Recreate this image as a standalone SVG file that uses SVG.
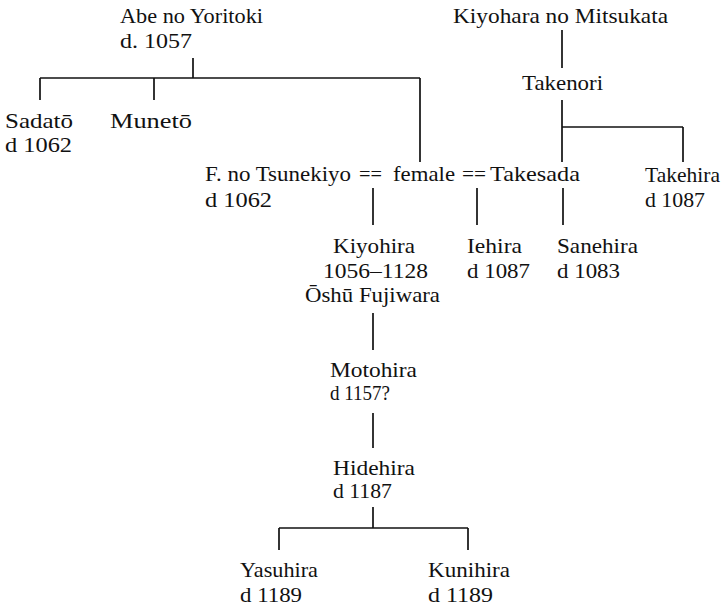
<svg xmlns="http://www.w3.org/2000/svg" width="725" height="606" viewBox="0 0 725 606">
<style>
text{font-family:"Liberation Serif","Times New Roman",serif;font-size:21px;fill:#111}
.c line{stroke:#111;stroke-width:1.7;fill:none}
</style>
<rect width="725" height="606" fill="#fff"/>
<g class="c" id="connectors">
<line x1="193" y1="58" x2="193" y2="78"/>
<line x1="40" y1="78" x2="420" y2="78"/>
<line x1="40" y1="78" x2="40" y2="100"/>
<line x1="154" y1="78" x2="154" y2="100"/>
<line x1="420" y1="78" x2="420" y2="162"/>
<line x1="562" y1="30" x2="562" y2="68"/>
<line x1="562" y1="100" x2="562" y2="162"/>
<line x1="562" y1="127" x2="683" y2="127"/>
<line x1="683" y1="127" x2="683" y2="162"/>
<line x1="373" y1="188" x2="373" y2="225"/>
<line x1="477" y1="188" x2="477" y2="225"/>
<line x1="563" y1="188" x2="563" y2="225"/>
<line x1="373" y1="313" x2="373" y2="350"/>
<line x1="373" y1="413" x2="373" y2="448"/>
<line x1="373" y1="507" x2="373" y2="528"/>
<line x1="279" y1="528" x2="468" y2="528"/>
<line x1="279" y1="528" x2="279" y2="550"/>
<line x1="468" y1="528" x2="468" y2="550"/>
<text x="359" y="181" textLength="23" lengthAdjust="spacingAndGlyphs">==</text>
<text x="462" y="181" textLength="24" lengthAdjust="spacingAndGlyphs">==</text>
</g>
<g id="abe"><text x="120" y="23" textLength="143" lengthAdjust="spacingAndGlyphs">Abe no Yoritoki</text><text x="120" y="48" textLength="72" lengthAdjust="spacingAndGlyphs">d. 1057</text></g>
<g id="sadato"><text x="5" y="128" textLength="68" lengthAdjust="spacingAndGlyphs">Sadatō</text><text x="5" y="152" textLength="67" lengthAdjust="spacingAndGlyphs">d 1062</text></g>
<g id="muneto"><text x="110" y="128" textLength="82" lengthAdjust="spacingAndGlyphs">Munetō</text></g>
<g id="mitsukata"><text x="453" y="23" textLength="215" lengthAdjust="spacingAndGlyphs">Kiyohara no Mitsukata</text></g>
<g id="takenori"><text x="522" y="90" textLength="81" lengthAdjust="spacingAndGlyphs">Takenori</text></g>
<g id="tsunekiyo"><text x="205" y="181" textLength="146" lengthAdjust="spacingAndGlyphs">F. no Tsunekiyo</text><text x="205" y="207" textLength="67" lengthAdjust="spacingAndGlyphs">d 1062</text></g>
<g id="female"><text x="393" y="181" textLength="62" lengthAdjust="spacingAndGlyphs">female</text></g>
<g id="takesada"><text x="490" y="181" textLength="90" lengthAdjust="spacingAndGlyphs">Takesada</text></g>
<g id="takehira"><text x="645" y="182" textLength="75" lengthAdjust="spacingAndGlyphs">Takehira</text><text x="645" y="207" textLength="60" lengthAdjust="spacingAndGlyphs">d 1087</text></g>
<g id="kiyohira"><text x="333" y="253" textLength="82" lengthAdjust="spacingAndGlyphs">Kiyohira</text><text x="323" y="278" textLength="105" lengthAdjust="spacingAndGlyphs">1056–1128</text><text x="305" y="302" textLength="135" lengthAdjust="spacingAndGlyphs">Ōshū Fujiwara</text></g>
<g id="iehira"><text x="467" y="253" textLength="55" lengthAdjust="spacingAndGlyphs">Iehira</text><text x="467" y="278" textLength="63" lengthAdjust="spacingAndGlyphs">d 1087</text></g>
<g id="sanehira"><text x="557" y="253" textLength="81" lengthAdjust="spacingAndGlyphs">Sanehira</text><text x="557" y="278" textLength="63" lengthAdjust="spacingAndGlyphs">d 1083</text></g>
<g id="motohira"><text x="330" y="377" textLength="87" lengthAdjust="spacingAndGlyphs">Motohira</text><text x="330" y="400" textLength="60" lengthAdjust="spacingAndGlyphs">d 1157?</text></g>
<g id="hidehira"><text x="333" y="475" textLength="82" lengthAdjust="spacingAndGlyphs">Hidehira</text><text x="333" y="498" textLength="59" lengthAdjust="spacingAndGlyphs">d 1187</text></g>
<g id="yasuhira"><text x="240" y="577" textLength="78" lengthAdjust="spacingAndGlyphs">Yasuhira</text><text x="240" y="602" textLength="62" lengthAdjust="spacingAndGlyphs">d 1189</text></g>
<g id="kunihira"><text x="428" y="577" textLength="82" lengthAdjust="spacingAndGlyphs">Kunihira</text><text x="428" y="602" textLength="65" lengthAdjust="spacingAndGlyphs">d 1189</text></g>
</svg>
